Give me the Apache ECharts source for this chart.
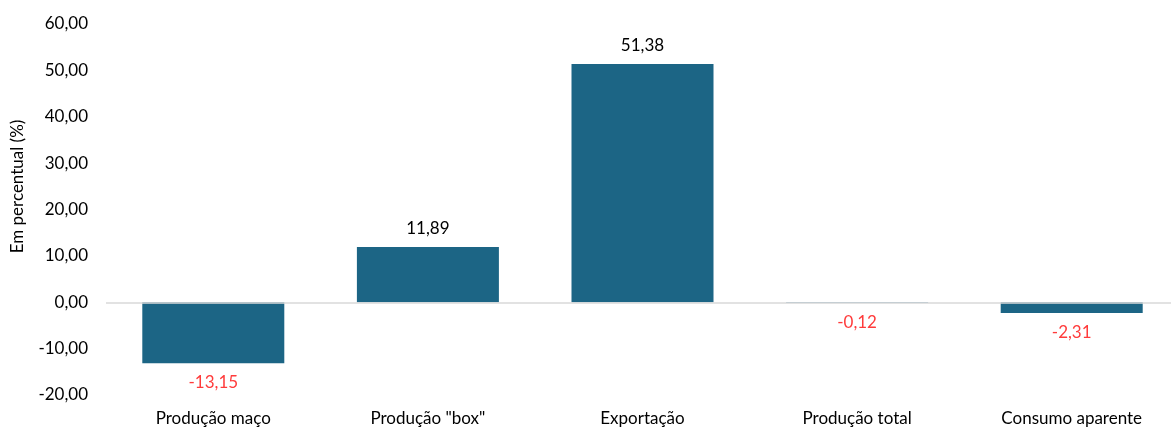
<!DOCTYPE html>
<html><head><meta charset="utf-8">
<script src="https://cdn.jsdelivr.net/npm/echarts@6/dist/echarts.min.js"></script>
<style>html,body{margin:0;padding:0;background:#fff}#c{width:1171px;height:428px}</style>
</head><body><div id="c"></div>
<script>
const categories = ['Produção maço', 'Produção "box"', 'Exportação', 'Produção total', 'Consumo aparente'];
const values = [-13.15, 11.89, 51.38, -0.12, -2.31];
const yTicks = { min: -20, max: 60, interval: 10 };
const fmt = v => v.toFixed(2).replace('.', ',');
const font = 'Lato';
const fs = 17;
const chart = echarts.init(document.getElementById('c'));
chart.setOption({
  animation: false,
  textStyle: { fontFamily: font },
  grid: { left: 106, width: 1073, top: 24, bottom: 33, outerBoundsMode: 'none', containLabel: false },
  xAxis: {
    type: 'category', data: categories,
    axisLine: { show: false }, axisTick: { show: false },
    axisLabel: { color: '#000', fontSize: fs, margin: 15, fontFamily: font }
  },
  yAxis: {
    type: 'value', min: yTicks.min, max: yTicks.max, interval: yTicks.interval,
    name: 'Em percentual (%)', nameLocation: 'middle', nameGap: 80, nameRotate: 90,
    nameTextStyle: { color: '#000', fontSize: fs, fontFamily: font, padding: [0, 0, 0, 46] },
    axisLine: { show: false }, axisTick: { show: false }, splitLine: { show: false },
    axisLabel: { color: '#000', fontSize: fs, margin: 18, formatter: fmt, fontFamily: font }
  },
  series: [{
    type: 'bar', barWidth: 142,
    data: values.map(v => v < 0 ? { value: v, label: { position: 'bottom', color: '#ff3b3b', distance: 11 } } : v),
    itemStyle: { color: '#1c6585' },
    label: {
      show: true, fontSize: fs, fontFamily: font,
      formatter: p => fmt(p.value),
      position: 'top', distance: 10, color: '#000'
    },
    markLine: {
      silent: true, symbol: 'none', label: { show: false },
      lineStyle: { color: '#d9d9d9', type: 'solid', width: 1.5 },
      data: [{ yAxis: 0 }]
    },
    z: 3
  }]
});
</script></body></html>
